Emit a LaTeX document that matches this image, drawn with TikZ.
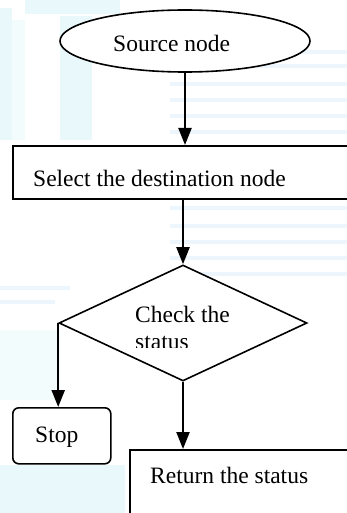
\documentclass[tikz,border=0pt]{standalone}
\usepackage{fontspec}
\setmainfont{Liberation Serif}
\usetikzlibrary{shapes.geometric,arrows.meta}
\definecolor{wmc}{RGB}{222,245,250}
\definecolor{wmb}{RGB}{210,232,248}
\begin{document}
\begin{tikzpicture}[x=1pt,y=-1pt,
  flow/.style={-{Triangle[width=13pt,length=17pt]}, line width=2.2pt},
  box/.style={draw, line width=1.6pt, inner sep=0pt, fill=white},
  lbl/.style={font=\fontsize{23.5}{27}\selectfont, inner sep=0pt, anchor=base west},
  wm/.style={fill=wmc, draw=none, opacity=0.7},
  wml/.style={fill=wmb, draw=none, opacity=0.4}]
\useasboundingbox (0,0) rectangle (347,513);
\clip (0,0) rectangle (347,513);
% faint watermark background
\fill[wm] (0,8) rectangle (12,140);
\fill[wm] (25,0) rectangle (120,14);
\fill[wm] (60,16) rectangle (92,140);
\fill[wm, opacity=0.35] (12,20) rectangle (25,140);
\foreach \yy in {50,64,82,98,114,130,206,224,240,256,272}
  \fill[wml] (170,\yy) rectangle (347,\yy+4);
\fill[wml] (0,286) rectangle (70,290);
\fill[wml] (0,300) rectangle (55,304);
\fill[wm] (0,465) rectangle (125,513);
\fill[wm, opacity=0.35] (0,330) rectangle (60,400);
% shapes
\node[box, ellipse, minimum width=250pt, minimum height=62pt] (src) at (185,41) {};
\node[lbl] (srct) at (113,52) {Source node};
\node[box, rectangle, anchor=north west, minimum width=350pt, minimum height=53pt] (sel) at (12,145) {};
\node[lbl] (selt) at (33,186) {Select the destination node};
\node[box, diamond, minimum width=248pt, minimum height=116pt] (dia) at (183,323) {};
\node[lbl] (diat) at (135,322) {Check the};
\begin{scope}
  \clip (100,330) rectangle (250,347);
  \node[lbl] (diat2) at (135,349) {status};
\end{scope}
\node[box, rounded corners=6pt, anchor=north west, minimum width=98pt, minimum height=56pt] (stop) at (12,407) {};
\node[lbl] (stopt) at (35,442) {Stop};
\node[box, anchor=north west, minimum width=240pt, minimum height=90pt] (ret) at (129,449) {};
\node[lbl] (rett) at (150,483) {Return the status};
% connectors
\draw[flow] (src.south) -- (src.south |- sel.north);
\draw[flow] (dia.north |- sel.south) -- (dia.north);
\draw[flow] (dia.west) -- (dia.west |- stop.north);
\draw[flow] (dia.south) -- (dia.south |- ret.north);
\end{tikzpicture}
\end{document}
